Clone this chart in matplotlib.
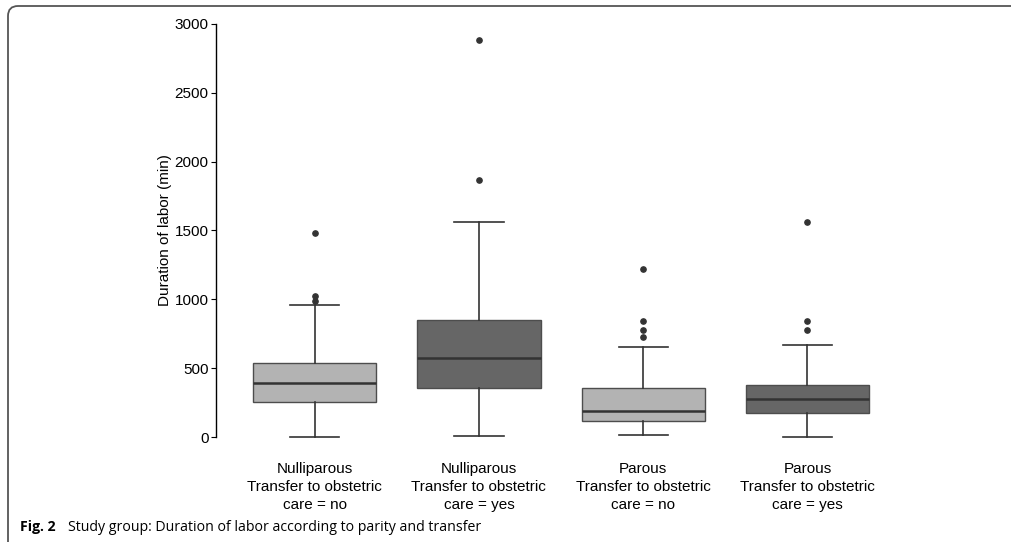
import matplotlib
matplotlib.use('Agg')
import matplotlib.pyplot as plt
from matplotlib.patches import FancyBboxPatch
from matplotlib.transforms import IdentityTransform

# groups
labels = ['Nulliparous\nTransfer to obstetric\ncare = no',
          'Nulliparous\nTransfer to obstetric\ncare = yes',
          'Parous\nTransfer to obstetric\ncare = no',
          'Parous\nTransfer to obstetric\ncare = yes']
med = [394, 571, 191, 274]
q1 = [254, 358, 118, 177]
q3 = [535, 847, 358, 375]
whislo = [0, 7, 12, 0]
whishi = [961, 1561, 656, 670]
fliers = [[985, 1025, 1480],
          [1865, 2885],
          [726, 777, 840, 1218],
          [777, 840, 1561]]
fills = ['#b3b3b3', '#666666', '#b3b3b3', '#666666']

plt.rcParams['font.family'] = ['Liberation Sans', 'DejaVu Sans']

fig = plt.figure(figsize=(10.11, 5.42), dpi=100)
ax = fig.add_axes([0.2137, 0.181, 0.6825, 0.7875])

stats = []
for i in range(len(labels)):
    stats.append({'med': med[i], 'q1': q1[i], 'q3': q3[i],
                  'whislo': whislo[i], 'whishi': whishi[i],
                  'fliers': fliers[i], 'label': labels[i]})

bp = ax.bxp(stats, positions=[1, 2, 3, 4], widths=0.75, patch_artist=True,
            showfliers=True,
            boxprops=dict(edgecolor='#4d4d4d', linewidth=1.0),
            medianprops=dict(color='#333333', linewidth=1.8),
            whiskerprops=dict(color='#333333', linewidth=1.2),
            capprops=dict(color='#333333', linewidth=1.2),
            flierprops=dict(marker='o', markersize=3.8, markerfacecolor='#333333',
                            markeredgecolor='#333333'))
for patch, c in zip(bp['boxes'], fills):
    patch.set_facecolor(c)
for cap in bp['caps']:
    x = cap.get_xdata()
    mid = (x[0] + x[1]) / 2
    cap.set_xdata([mid - 0.15, mid + 0.15])

ax.set_xlim(0.4, 4.6)
ax.set_ylim(-50, 3050)
ax.set_yticks([0, 500, 1000, 1500, 2000, 2500, 3000])
for s in ['top', 'right', 'bottom']:
    ax.spines[s].set_visible(False)
ax.spines['left'].set_bounds(0, 3000)
ax.spines['left'].set_linewidth(1.0)
ax.tick_params(axis='y', length=3.3, width=0.8, pad=2, labelsize=11)
ax.tick_params(axis='x', length=0, pad=13, labelsize=11)
for t in ax.get_xticklabels():
    t.set_linespacing(1.35)
ax.set_ylabel('Duration of labor (min)', fontsize=11, labelpad=2)

# rounded frame corner of the figure panel
frame = FancyBboxPatch((8, -60), 1200, 542 - 6 + 60,
                       boxstyle='round,pad=0,rounding_size=10',
                       transform=IdentityTransform(), fill=False,
                       edgecolor='#555555', linewidth=1.3, clip_on=False)
fig.patches.append(frame)

fig.text(20 / 1011, 0.0197, 'Fig. 2', fontsize=10.2, fontweight='bold',
         family=['Open Sans', 'DejaVu Sans'], va='baseline')
fig.text(68 / 1011, 0.0197,
         'Study group: Duration of labor according to parity and transfer',
         fontsize=10.2, family=['Open Sans', 'DejaVu Sans'], va='baseline')

fig.savefig('out.png', dpi=100)
